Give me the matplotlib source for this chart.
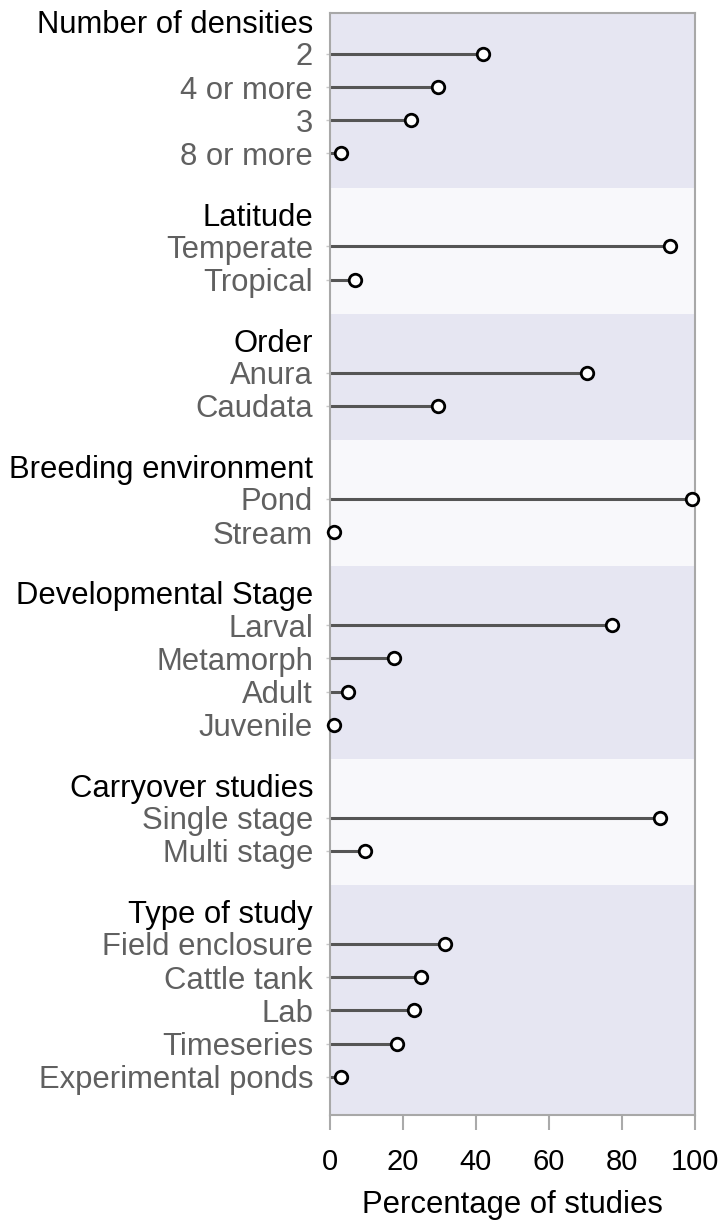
import matplotlib
matplotlib.use("Agg")
import matplotlib.pyplot as plt

plt.rcParams['font.family'] = ['Liberation Sans', 'DejaVu Sans']

groups = ["Number of densities", "Latitude", "Order", "Breeding environment",
          "Developmental Stage", "Carryover studies", "Type of study"]
items = [
    ["2", "4 or more", "3", "8 or more"],
    ["Temperate", "Tropical"],
    ["Anura", "Caudata"],
    ["Pond", "Stream"],
    ["Larval", "Metamorph", "Adult", "Juvenile"],
    ["Single stage", "Multi stage"],
    ["Field enclosure", "Cattle tank", "Lab", "Timeseries", "Experimental ponds"],
]
values = [
    [42.0, 29.6, 22.1, 2.9],
    [93.2, 6.8],
    [70.5, 29.6],
    [99.1, 1.1],
    [77.2, 17.4, 4.9, 1.1],
    [90.4, 9.7],
    [31.5, 24.8, 23.0, 18.3, 3.0],
]
xticks = [0, 20, 40, 60, 80, 100]
xlabel = "Percentage of studies"

band_colors = ["#e6e6f2", "#f8f8fb"]
GAP = 2.8
TOP_M, BOT_M = 1.23, 1.15

fig = plt.figure(figsize=(7.24, 12.22), dpi=100)
ax = fig.add_axes([330/724, 1 - 1115/1222, 365/724, (1115-13)/1222])

y = 0.0
ypos_all, labels_all = [], []
header_pos = []
group_ranges = []
for gi, (g, its, vals) in enumerate(zip(groups, items, values)):
    ys = []
    for k in range(len(its)):
        ys.append(y)
        y += 1
    y += GAP - 1
    header_pos.append(ys[0] - 0.97)
    group_ranges.append((ys[0], ys[-1]))
    ypos_all += ys
    labels_all += its
    ax.hlines(ys, 0, vals, color="#555555", lw=2.2, zorder=2)
    ax.plot(vals, ys, 'o', ms=9, mfc='white', mec='black', mew=2.0,
            zorder=3, clip_on=False)

ymin = group_ranges[0][0] - TOP_M
ymax = group_ranges[-1][1] + BOT_M
start = ymin
for gi, (a, b) in enumerate(group_ranges):
    end = b + 1.03 if gi < len(group_ranges) - 1 else ymax
    ax.axhspan(start, end, color=band_colors[gi % 2], lw=0, zorder=0)
    start = end

ax.set_ylim(ymax, ymin)
ax.set_xlim(0, 100)
ax.set_facecolor('white')

ax.set_yticks(ypos_all)
ax.set_yticklabels(labels_all, fontsize=22.3, color="#606060")
ax.tick_params(axis='y', length=3, width=1, color="#c8c8c8", pad=9.2)

ax.set_xticks(xticks)
ax.set_xticklabels([str(t) for t in xticks], fontsize=21, color="black")
ax.tick_params(axis='x', length=11, width=1.5, color="#aaaaaa", pad=13)
ax.set_xlabel(xlabel, fontsize=22.3, labelpad=10)

for s in ax.spines.values():
    s.set_color("#a8a8a8")
    s.set_linewidth(1.5)

for g, hp in zip(groups, header_pos):
    ax.annotate(g, xy=(0, hp), xycoords=ax.get_yaxis_transform(),
                xytext=(-12.2, 0), textcoords='offset points',
                ha='right', va='center_baseline', fontsize=22.3, color='black')

fig.savefig("out.png", dpi=100)
